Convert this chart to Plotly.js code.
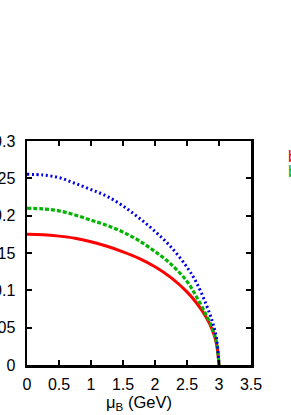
<!DOCTYPE html>
<html><head><meta charset="utf-8">
<script src="https://cdn.plot.ly/plotly-3.0.1.min.js"></script>
<style>body{margin:0;background:#fff;}#c{width:291px;height:415px;}</style>
</head><body><div id="c"></div>
<script>
var muB = [0, 0.25, 0.5, 0.75, 1.0, 1.25, 1.5, 1.75, 2.0, 2.25, 2.5, 2.65, 2.8, 2.9, 2.96, 3.0];
var tRed = [0.175, 0.1744, 0.1726, 0.1697, 0.165, 0.159, 0.1516, 0.1428, 0.1315, 0.117, 0.098, 0.083, 0.064, 0.046, 0.029, 0];
var tGreen = [0.2099, 0.209, 0.2065, 0.2009, 0.194, 0.187, 0.178, 0.1665, 0.152, 0.135, 0.112, 0.091, 0.067, 0.048, 0.031, 0];
var tBlue = [0.2554, 0.2545, 0.251, 0.2433, 0.235, 0.226, 0.213, 0.197, 0.179, 0.158, 0.131, 0.110, 0.081, 0.057, 0.036, 0];
var legendLabels = ["b", "b"];
var xTicks = [0, 0.5, 1, 1.5, 2, 2.5, 3, 3.5];
var yTicks = [0, 0.05, 0.1, 0.15, 0.2, 0.25, 0.3];

var traces = [
  {x: muB, y: tRed, mode: 'lines', line: {color: '#ff0000', width: 3, shape: 'spline'}, showlegend: false},
  {x: muB, y: tGreen, mode: 'lines', line: {color: '#00b400', width: 3.2, dash: '4px,2px', shape: 'spline'}, showlegend: false},
  {x: muB, y: tBlue, mode: 'lines', line: {color: '#0000e0', width: 3, dash: '2px,2.7px', shape: 'spline'}, showlegend: false}
];
var fontF = 'Liberation Sans, Arial, sans-serif';
var layout = {
  width: 291, height: 415,
  margin: {l: 27, r: 40, t: 141, b: 50, pad: 0},
  paper_bgcolor: '#fff', plot_bgcolor: '#fff',
  font: {family: fontF, size: 16, color: '#000'},
  xaxis: {range: [0, 3.5], tickvals: xTicks, ticktext: xTicks.map(String), ticks: 'inside', ticklen: 5, tickwidth: 2, tickcolor: '#000',
    ticklabelstandoff: 3,
    showline: true, linecolor: '#000', linewidth: 2.5, mirror: 'ticks', showgrid: false, zeroline: false,
    title: {text: 'μ<sub>B</sub> (GeV)', font: {size: 16.5}, standoff: 2}},
  yaxis: {range: [0, 0.3], tickvals: yTicks, ticktext: yTicks.map(String), ticks: 'inside', ticklen: 5, tickwidth: 2, tickcolor: '#000',
    ticklabelstandoff: 6,
    showline: true, linecolor: '#000', linewidth: 2.5, mirror: 'ticks', showgrid: false, zeroline: false},
  annotations: [
    {xref: 'paper', yref: 'paper', x: (287-27)/224, y: (365-156)/224, xanchor: 'left', yanchor: 'middle', borderpad: 0, text: legendLabels[0], showarrow: false, font: {color: '#ff0000', size: 16}},
    {xref: 'paper', yref: 'paper', x: (287-27)/224, y: (365-171)/224, xanchor: 'left', yanchor: 'middle', borderpad: 0, text: legendLabels[1], showarrow: false, font: {color: '#00b400', size: 16}}
  ]
};
Plotly.newPlot('c', traces, layout, {displayModeBar: false, staticPlot: true});
</script></body></html>
